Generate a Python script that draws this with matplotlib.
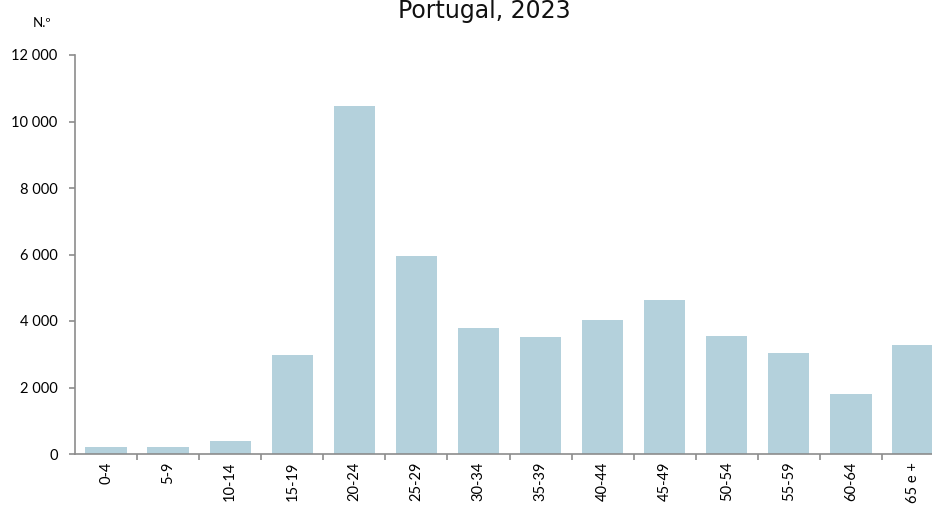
import matplotlib
matplotlib.use("Agg")
import matplotlib.pyplot as plt
import numpy as np

categories = ["0-4", "5-9", "10-14", "15-19", "20-24", "25-29", "30-34",
              "35-39", "40-44", "45-49", "50-54", "55-59", "60-64", "65 e +"]
values = [210, 220, 390, 2980, 10470, 5950, 3790, 3520, 4030, 4630, 3540, 3040, 1805, 3280]
yticks = [0, 2000, 4000, 6000, 8000, 10000, 12000]
ytick_labels = ["0", "2 000", "4 000", "6 000", "8 000", "10 000", "12 000"]

plt.rcParams['font.family'] = ['Lato', 'DejaVu Sans']

fig = plt.figure(figsize=(9.32, 5.07), dpi=100)
ax = fig.add_axes([75/932, (507-454)/507, (944-75)/932, (454-55)/507])

x = np.arange(len(categories))
ax.bar(x, values, width=0.665, color='#B4D1DC', zorder=2)

ax.set_xlim(-0.5, len(categories) - 0.5)
ax.set_ylim(0, 12000)
ax.set_yticks(yticks)
ax.set_yticklabels(ytick_labels, fontsize=10.5)
ax.set_xticks(x)
ax.set_xticklabels(categories, rotation=90, fontsize=10.5)
ax.set_xticks(np.arange(len(categories)) + 0.5, minor=True)
ax.tick_params(axis='x', which='major', length=0, pad=5.5)
ax.tick_params(axis='x', which='minor', length=4, color='#8c8c8c', width=1.2, direction='out')
ax.tick_params(axis='y', length=4, color='#8c8c8c', width=1.2, direction='out', pad=8.5)

for s in ['top', 'right']:
    ax.spines[s].set_visible(False)
for s in ['left', 'bottom']:
    ax.spines[s].set_color('#8c8c8c')
    ax.spines[s].set_linewidth(1.2)

fig.text(484/932, (507-18)/507, "Portugal, 2023", ha='center', va='baseline',
         fontsize=17, family=['DejaVu Sans'], color='#111111')
fig.text(42/932, (507-27)/507, "N.º", ha='center', va='baseline', fontsize=9.5)

fig.savefig("out.png", dpi=100)
